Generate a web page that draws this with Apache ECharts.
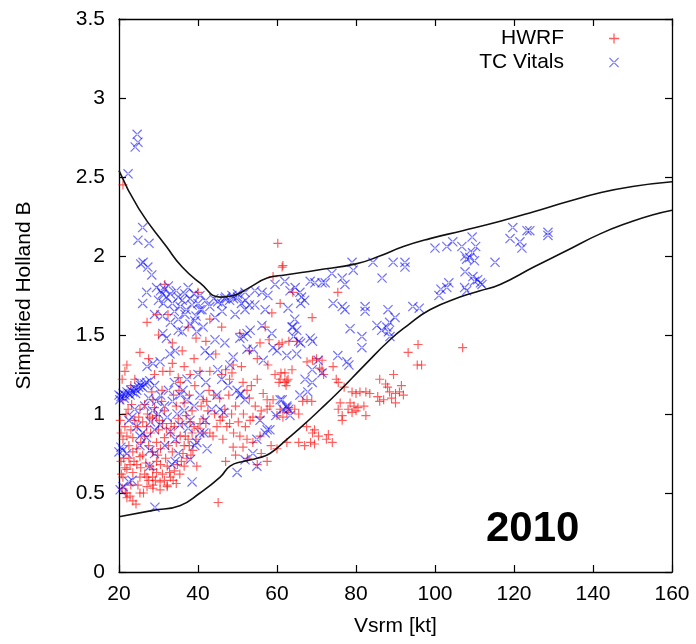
<!DOCTYPE html>
<html>
<head>
<meta charset="utf-8">
<script src="https://cdn.jsdelivr.net/npm/echarts@6/dist/echarts.min.js"></script>
<style>
  html, body { margin: 0; padding: 0; background: #fff; }
  #chart { width: 696px; height: 644px; }
</style>
</head>
<body>
<div id="chart"></div>
<script>
// Axis ranges and tick spacing
const xRange = [20, 160], xStep = 20;
const yRange = [0, 3.5], yStep = 0.5;

// HWRF: [Vsrm (kt), simplified Holland B]
const hwrfPts = [
  [21.0,2.45],[60.2,2.08],[61.3,1.93],[64.0,1.77],[59.0,1.87],[40.0,1.77],[31.6,1.82],[29.6,1.63],[32.4,1.63],[27.1,1.58],
  [58.7,1.64],[60.8,1.70],[75.4,1.77],[68.9,1.61],[61.5,1.94],
  [25.3,1.39],[22.0,1.31],[21.5,1.27],[20.8,1.22],[31.1,1.27],[32.9,1.27],[30.9,1.15],[28.3,1.14],[28.6,1.09],[35.0,1.23],
  [35.5,1.20],[38.0,1.25],[40.5,1.27],[43.0,1.27],[46.0,1.25],[47.0,1.28],[48.0,1.22],[48.6,1.26],[51.4,1.20],[52.4,1.15],
  [53.5,1.18],[55.0,1.22],[50.6,1.51],[48.9,1.31],[51.0,1.30],[57.7,1.31],[59.5,1.25],[60.8,1.22],[60.5,1.20],[62.0,1.26],
  [63.8,1.28],[62.5,1.21],[55.7,1.45],[58.0,1.47],[60.5,1.44],[63.0,1.46],[65.0,1.46],
  [41.3,0.97],[40.5,0.94],[42.0,0.94],[40.0,0.91],[41.3,0.88],[43.0,0.88],[43.8,0.86],[44.8,0.92],[45.6,0.96],[47.3,0.92],
  [48.0,0.94],[46.3,0.84],[48.9,0.79],[50.6,0.86],[51.4,0.79],[52.4,0.84],[53.9,0.82],[55.7,0.86],[55.7,0.98],[53.9,0.98],
  [53.2,0.96],[57.5,1.03],[58.2,1.05],[60.8,1.03],[59.0,1.09],[56.5,1.13],[57.5,1.09],[41.3,1.09],
  [20.3,0.96],[21.0,1.09],[22.3,1.03],[25.3,1.03],[26.0,0.95],[27.0,0.92],[28.0,0.88],[28.5,0.97],[29.5,0.99],[30.0,0.90],
  [31.0,0.94],[32.0,0.91],[33.0,0.88],[34.0,0.92],[35.0,0.97],[36.0,0.94],[37.0,0.99],[38.0,0.95],[39.0,0.92],[29.0,1.04],
  [31.5,1.02],[34.5,1.05],[36.5,1.07],[38.5,1.02],[26.5,1.06],[24.0,0.96],[23.0,0.90],[22.0,0.86],[21.0,0.84],
  [25.3,0.73],[26.0,0.74],[27.8,0.67],[28.6,0.65],[29.5,0.70],[31.0,0.62],[32.2,0.67],[33.0,0.60],[33.7,0.58],[32.2,0.55],
  [30.4,0.57],[28.6,0.55],[27.1,0.60],[25.3,0.60],[23.5,0.63],[22.8,0.68],[22.0,0.65],[21.0,0.60],[20.8,0.53],[22.0,0.50],
  [22.8,0.48],[23.5,0.45],[24.3,0.43],[22.0,0.47],[25.3,0.50],[27.1,0.54],[28.6,0.53],[30.4,0.52],[32.2,0.54],[34.5,0.56],
  [35.4,0.62],[36.5,0.67],[37.2,0.72],[38.7,0.77],[39.7,0.67],[45.1,0.44],
  [95.7,1.44],[93.2,1.39],[95.5,1.31],[96.6,1.31],[107.0,1.42],[61.3,1.45],
  [61.0,1.26],[62.0,1.20],[62.8,1.22],[62.3,1.18],
  [67.6,1.33],[69.0,1.34],[70.0,1.35],[71.4,1.34],[71.4,1.28],[71.8,1.25],[70.8,1.29],[74.2,1.30],[75.0,1.22],[75.5,1.20],
  [77.0,1.17],[79.0,1.14],[80.0,1.13],[81.0,1.14],[82.5,1.14],[83.5,1.13],
  [86.0,1.22],[87.5,1.19],[88.0,1.17],[89.5,1.25],[88.5,1.14],[90.0,1.13],[89.0,1.10],[91.0,1.14],[90.0,1.07],[86.0,1.08],
  [87.0,1.09],[85.5,1.11],[91.5,1.18],[92.0,1.12],
  [78.5,1.07],[79.5,1.05],[80.5,1.04],[78.0,1.03],[76.0,1.07],[75.5,1.03],[76.5,0.99],[79.0,1.01],[80.0,1.02],[82.0,1.05],
  [82.5,0.99],[76.5,0.96],
  [67.6,1.09],[68.8,1.08],[66.5,1.08],
  [63.0,1.04],[62.5,1.01],[60.0,0.99],[61.5,0.98],[64.5,1.03],[65.5,1.00],
  [67.5,0.92],[69.5,0.90],[69.0,0.88],[70.5,0.86],[73.0,0.87],[74.0,0.82],[72.5,0.84],
  [62.5,0.82],[65.5,0.82],[67.0,0.80],[68.5,0.82],[69.5,0.81],
  [30.0,1.50],[33.5,1.45],[36.0,1.40],[37.5,1.55],[39.0,1.35],[42.0,1.46],[44.5,1.38],[46.0,1.55],[53.0,1.40],[55.0,1.35],
  [57.0,1.55],[43.0,1.60],[39.5,1.48],
  [47.0,0.70],[49.5,0.74],[52.5,0.72],[56.0,0.75],[58.5,0.80],[60.0,0.78],[57.5,0.70],[55.0,0.68],
  [27.5,1.35],[29.0,1.25],[24.0,1.22],[23.0,1.18],[33.5,1.32],[36.5,1.30],
  [20.5,0.88],[21.5,0.92],[22.5,0.80],[23.5,0.85],[24.5,0.78],[25.5,0.82],[26.5,0.86],[27.5,0.80],[28.5,0.76],[29.5,0.82],
  [30.5,0.78],[31.5,0.85],[32.5,0.80],[33.5,0.76],[34.5,0.82],[35.5,0.86],[36.5,0.80],[37.5,0.84],[38.5,0.88],[39.5,0.84],
  [21.2,0.72],[23.8,0.70],[26.8,0.69],[29.8,0.74],[31.8,0.72],[34.8,0.68],[36.2,0.75],[24.6,0.92],[27.8,0.98],[30.8,1.08],
  [33.8,1.12],[35.2,1.15],[37.8,1.12],[39.2,1.18],[40.8,1.05],[42.5,1.02],[44.2,1.00],[46.8,1.03],[49.5,1.05],[51.5,1.00],
  [45.5,1.10],[47.8,1.12],[42.8,1.15],
  [20.5,0.70],[21.5,0.66],[22.5,0.72],[23.5,0.76],[24.5,0.68],[25.5,0.66],[26.5,0.62],[27.5,0.58],[28.5,0.60],[29.5,0.63],
  [30.5,0.68],[31.5,0.58],[32.8,0.63],[34.0,0.64],[35.8,0.70],[37.8,0.80],[38.2,0.74],[36.8,0.86],[33.2,0.94],[30.2,0.96],
  [27.2,1.00],[25.0,0.98],[23.2,1.06],[21.8,1.00],[20.6,0.62],[21.6,0.50],[23.0,0.55],[24.8,0.55],[26.2,0.50],[29.2,0.58],
  [42.2,1.08],[44.0,1.12],[46.2,0.98],[48.5,1.00],[50.2,0.95],[52.0,0.92],[54.5,1.05],[56.0,1.02],[53.0,1.10],[49.0,0.88]
];

// TC Vitals: [Vsrm (kt), simplified Holland B]
const vitalsPts = [
  [24.6,2.77],[24.8,2.72],[24.1,2.69],[22.3,2.52],
  [26.0,2.18],[24.8,2.10],[27.6,2.08],[26.1,1.96],[27.3,1.93],[28.3,1.88],[25.5,1.95],
  [27.0,1.77],[26.0,1.70],[29.5,1.80],[30.5,1.78],[31.0,1.76],[31.5,1.79],[32.0,1.74],[32.5,1.81],[31.2,1.70],[30.0,1.72],
  [33.0,1.76],[33.5,1.70],[34.0,1.65],[34.5,1.78],[35.0,1.74],[35.5,1.68],[36.0,1.72],[36.7,1.76],[37.0,1.66],[37.5,1.80],
  [38.0,1.73],[38.5,1.69],[39.0,1.76],[39.5,1.62],[40.0,1.70],[40.5,1.75],[41.0,1.66],[42.0,1.72],[43.0,1.68],[44.0,1.73],
  [45.0,1.71],[46.0,1.70],[47.0,1.74],[48.0,1.72],[49.0,1.73],[50.0,1.74],[51.0,1.70],[52.0,1.72],[53.0,1.69],
  [31.0,1.62],[33.0,1.58],[35.0,1.60],[29.0,1.63],[36.0,1.52],[38.0,1.57],
  [41.3,1.55],[39.7,1.52],[35.0,1.53],[31.1,1.51],[32.0,1.48],[34.2,1.40],[32.9,1.38],[30.4,1.33],[28.6,1.32],[27.1,1.30],
  [19.6,1.11],[20.0,1.12],[20.5,1.11],[21.0,1.13],[21.5,1.12],[22.0,1.14],[22.5,1.13],[23.0,1.15],[23.5,1.14],[24.0,1.16],
  [24.5,1.15],[25.0,1.17],[25.5,1.18],[26.0,1.17],[26.5,1.19],[27.0,1.20],[27.8,1.21],[20.2,1.09],[21.3,1.10],[22.8,1.12],
  [24.2,1.13],[25.3,1.20],
  [37.2,1.22],[36.2,1.15],[37.2,1.09],[34.7,1.00],[32.2,0.98],[24.0,1.03],[23.3,0.98],[22.5,0.96],[24.5,0.92],[25.3,0.86],
  [21.0,0.77],[20.5,0.79],[20.0,0.76],[22.0,0.75],[34.2,0.70],[27.8,0.67],[23.3,0.58],[22.5,0.57],[20.3,0.52],[21.0,0.54],
  [38.5,0.57],[29.1,0.41],[40.5,0.88],[39.7,0.82],[41.5,0.88],[45.6,1.03],[46.5,1.01],[49.9,1.15],[50.8,1.13],[48.9,1.36],
  [52.4,1.41],[54.0,1.41],[56.5,1.34],[59.0,1.42],[60.0,1.40],[61.3,1.09],[62.5,1.05],[57.5,0.90],[57.0,0.88],[54.9,0.84],
  [53.9,0.75],[54.9,0.67],[49.9,0.63],[63.8,1.55],[64.5,1.60],[58.7,1.51],[52.4,1.51],[51.5,1.49],
  [64.6,1.80],[65.8,1.77],[66.2,1.74],[67.0,1.72],[66.0,1.70],[68.4,1.84],[69.6,1.83],[71.4,1.83],[72.2,1.83],[73.9,1.89],
  [76.5,1.86],[77.2,1.82],[79.0,1.96],[79.3,1.91],[84.3,1.96],[89.4,1.96],[92.4,1.96],[92.4,1.93],[86.6,1.86],[62.8,1.67],
  [74.2,1.70],[76.5,1.68],[77.2,1.66],[82.3,1.68],[82.3,1.65],[88.1,1.66],[94.4,1.68],[96.0,1.67],[89.9,1.61],[88.5,1.58],
  [87.8,1.55],[88.2,1.52],[88.6,1.49],[85.3,1.56],[86.5,1.53],[78.5,1.54],[81.5,1.49],[81.5,1.42],[75.4,1.37],[77.7,1.33],
  [78.2,1.31],[64.0,1.55],[65.0,1.53],[64.2,1.49],[65.5,1.46],[66.0,1.45],[68.4,1.48],[69.0,1.46],[62.5,1.37],[65.0,1.38],
  [71.4,1.26],[68.9,1.20],[67.8,1.14],[60.8,1.09],[62.5,1.04],[63.0,1.03],
  [100.0,2.05],[103.0,2.06],[104.5,2.09],[106.8,2.06],[109.4,2.12],[107.6,2.00],[108.0,1.98],[108.8,1.99],[109.5,2.02],[110.3,2.06],
  [110.0,1.97],[107.6,1.90],[109.6,1.87],[110.0,1.84],[111.5,1.83],[111.9,1.82],[110.8,1.85],[103.5,1.83],[103.0,1.80],[101.5,1.79],
  [101.0,1.75],[107.5,1.80],[108.0,1.78],[115.2,1.96],
  [119.7,2.18],[119.0,2.11],[123.3,2.16],[124.0,2.16],[128.6,2.15],[128.6,2.13],[122.0,2.05],[121.5,2.09],
  [44.3,1.47],[46.8,1.45],[50.6,1.48],[53.2,1.53],[56.2,1.56],[41.8,1.40],[43.0,1.37],[48.1,1.31],[47.6,1.18],[50.6,1.12],
  [51.9,1.09],[44.8,1.12],[43.5,1.03],[41.8,0.96],[38.0,0.96],[37.5,0.91],[39.2,0.80],[42.3,0.78],[35.4,0.93],[34.2,0.84],
  [33.0,0.89],[30.4,0.93],[29.0,0.90],[31.6,0.80],[35.0,0.75],[33.4,0.68],[38.0,0.71],
  [63.3,0.99],[65.8,1.12],[67.1,1.22],[68.9,1.28],[70.4,1.34],[55.7,0.96],[58.2,0.90],[59.7,0.99],[61.5,1.03],[51.9,0.71],
  [46.8,1.73],[48.6,1.75],[50.0,1.76],[51.9,1.77],[54.4,1.78],[56.2,1.77],[57.7,1.75],[59.5,1.82],[62.0,1.84],[63.3,1.78],
  [54.4,1.69],[51.9,1.66],[57.0,1.66],[49.4,1.63],[44.3,1.61],[46.1,1.65],[40.5,1.66],[39.2,1.59],[36.7,1.63],
  [40.0,1.25],[42.0,1.20],[45.0,1.28],[46.0,1.22],[25.3,0.80],[27.8,0.77],[29.0,0.75],
  [26.5,1.05],[27.5,1.10],[28.5,1.02],[29.5,1.08],[30.5,1.12],[31.5,1.05],[33.5,1.08],[35.5,1.12],[28.0,0.95],[30.0,1.00],
  [32.5,1.15],[36.5,1.02],[26.0,0.88],[27.0,0.85],[39.0,1.05],[40.5,1.12],[34.0,1.20],[29.0,1.18]
];

// Envelope curves bounding the observed spread
const upperEnv = [
  [20,2.54],[25,2.30],[32,2.06],[36,1.93],[40.5,1.83],[45.6,1.74],[48.9,1.75],[53,1.80],[57.5,1.86],[62,1.88],
  [70,1.91],[80,1.95],[86,2.00],[92,2.06],[98.7,2.11],[107,2.16],[116.5,2.22],[125,2.28],[133,2.34],[141.8,2.40],
  [150,2.44],[160,2.47]
];
const lowerEnv = [
  [20,0.35],[28.6,0.39],[35.4,0.42],[40.5,0.50],[45.6,0.60],[48.1,0.67],[51.4,0.70],[55,0.72],[58.2,0.75],[62.5,0.84],
  [65.8,0.91],[71,1.03],[76,1.15],[81.8,1.30],[88.6,1.47],[93,1.56],[98.7,1.66],[106.3,1.74],[111.4,1.78],[116.5,1.82],
  [125,1.93],[133,2.03],[141.8,2.14],[150,2.22],[155,2.26],[160,2.29]
];

const seriesNames = ['HWRF', 'TC Vitals'];
const yearLabel = '2010';

// Thin marker glyphs: a plus and a diagonal cross
const plusPath = 'path://M4.35,0H5.65V10H4.35Z M0,4.35H10V5.65H0Z';
const crossPath = 'path://M0,0.85L0.85,0L10,9.15L9.15,10Z M10,0.85L9.15,0L0,9.15L0.85,10Z';

const font = 'Liberation Sans, Arial, Helvetica, sans-serif';
const axisLine = { show: true, onZero: false, lineStyle: { color: '#000', width: 1.3 } };
const axisTick = { show: true, inside: true, length: 7, lineStyle: { color: '#000', width: 1.2 } };

const chart = echarts.init(document.getElementById('chart'), null, { renderer: 'canvas' });

chart.setOption({
  backgroundColor: '#fff',
  animation: false,
  grid: { left: 119, right: 24, top: 19, bottom: 72, show: false },
  legend: {
    orient: 'vertical',
    right: 72,
    top: 23,
    align: 'right',
    itemWidth: 10,
    itemHeight: 10,
    itemGap: 3,
    data: seriesNames,
    textStyle: { fontFamily: font, fontSize: 21, color: '#000', lineHeight: 21, padding: [0, 40, 0, 0] }
  },
  xAxis: [{
    type: 'value', min: xRange[0], max: xRange[1], interval: xStep,
    name: 'Vsrm [kt]', nameLocation: 'middle', nameGap: 44,
    nameTextStyle: { fontFamily: font, fontSize: 21, color: '#000' },
    axisLine, axisTick,
    axisLabel: { fontFamily: font, fontSize: 21, color: '#000', margin: 12 },
    splitLine: { show: false }
  }, {
    type: 'value', position: 'top', min: xRange[0], max: xRange[1], interval: xStep,
    axisLine, axisTick, axisLabel: { show: false }, splitLine: { show: false }
  }],
  yAxis: [{
    type: 'value', min: yRange[0], max: yRange[1], interval: yStep,
    name: 'Simplified Holland B', nameLocation: 'middle', nameGap: 84, nameRotate: 90,
    nameTextStyle: { fontFamily: font, fontSize: 21, color: '#000' },
    axisLine, axisTick,
    axisLabel: { fontFamily: font, fontSize: 21, color: '#000', margin: 14 },
    splitLine: { show: false }
  }, {
    type: 'value', position: 'right', min: yRange[0], max: yRange[1], interval: yStep,
    axisLine, axisTick, axisLabel: { show: false }, splitLine: { show: false }
  }],
  graphic: [{
    type: 'text',
    left: 486, top: 508,
    style: { text: yearLabel, font: 'bold 42px ' + font, fill: '#000' }
  }],
  series: [{
    name: seriesNames[0],
    type: 'scatter',
    data: hwrfPts,
    symbol: plusPath,
    symbolSize: 9,
    itemStyle: { color: 'rgba(255,0,0,0.8)' }
  }, {
    name: seriesNames[1],
    type: 'scatter',
    data: vitalsPts,
    symbol: crossPath,
    symbolSize: 10,
    itemStyle: { color: 'rgba(0,0,255,0.7)' }
  }, {
    type: 'line',
    data: upperEnv,
    smooth: 0.5,
    showSymbol: false,
    symbol: 'none',
    lineStyle: { color: '#111', width: 1.6 },
    silent: true
  }, {
    type: 'line',
    data: lowerEnv,
    smooth: 0.5,
    showSymbol: false,
    symbol: 'none',
    lineStyle: { color: '#111', width: 1.6 },
    silent: true
  }]
});
</script>
</body>
</html>
